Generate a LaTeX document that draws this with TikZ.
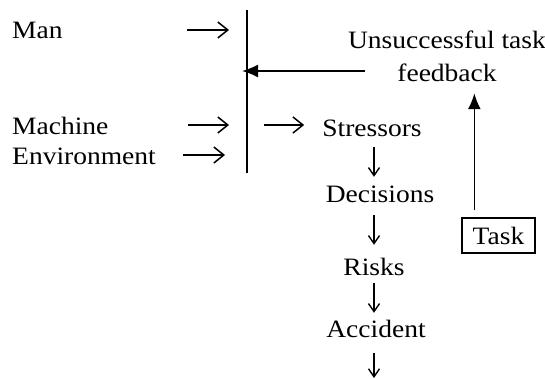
\documentclass[tikz,border=0pt]{standalone}
\usepackage{fontspec}
\setmainfont{Liberation Serif}[FakeStretch=1.1]
\usetikzlibrary{arrows.meta,calc}

\begin{document}
\begin{tikzpicture}[x=1pt, y=-1pt,
	txt/.style={font=\fontsize{25}{29}\selectfont, inner sep=0pt, text height=17pt, text depth=5pt},
	lead/.style={line width=1.5pt, -{Straight Barb[length=10pt,width=16pt,line width=1.5pt]}},
	flow/.style={line width=1.4pt, -{Straight Barb[length=8pt,width=11pt,line width=1.4pt]}},
	back/.style={line width=1.7pt, -{Latex[length=16pt,width=13pt]}}]

\useasboundingbox (0,0) rectangle (545,379);

% Entradas
\node[txt, anchor=base west] (man) at (12,39) {Man};
\node[txt, anchor=base west] (machine) at (12,135) {Machine};
\node[txt, anchor=base west] (env) at (12,165) {Environment};

	\foreach \n/\y/\xa/\xb in {man/30/187/229, machine/125/188/229, env/155/183/225} {
		\coordinate (\n-a) at (\xa,\y);
		\coordinate (\n-b) at (\xb,\y);
		\draw[lead] (\n-a) -- (\n-b);
	}

% Barra
\coordinate (bartop) at (247,10);
\coordinate (barbot) at (247,173);
\coordinate (barmid) at (247,125);
\coordinate (barfb) at (247,71);
\draw[line width=1.7pt] (bartop) -- (barbot);

% Cadena
\node[txt, anchor=base] (stressors) at (372,137) {Stressors};
\node[txt, anchor=base] (decisions) at (380,203) {Decisions};
\node[txt, anchor=base] (risks) at (374,275) {Risks};
\node[txt, anchor=base] (accident) at (376,337) {Accident};
\coordinate (col) at (374,0);
\coordinate (fin) at (374,378);

\draw[lead, shorten <=17pt, shorten >=18pt] (barmid) -- (stressors.west |- barmid);

	\foreach \a/\b/\s/\e in {stressors/decisions/5/9, decisions/risks/7/13, risks/accident/3/7}
		\draw[flow, shorten <=\s pt, shorten >=\e pt] (\a.south -| col) -- (\b.north -| col);
	\draw[flow, shorten <=11pt] (accident.south -| col) -- (fin);

% Retroalimentacion
\node[txt, anchor=base] (unsucc) at (447,49) {Unsuccessful task};
\node[txt, anchor=base] (feedback) at (447,82) {feedback};
\node[txt, draw, line width=1.3pt, minimum width=73pt, minimum height=35pt, text height=, text depth=] (task) at (498.5,235.5) {Task};

\draw[back, shorten <=32pt, shorten >=-5pt] (feedback.west |- barfb) -- (barfb);
\coordinate (taskup) at ($(task.north west)+(13,-7)$);
\draw[back, shorten >=6pt] (taskup) -- (taskup |- feedback.south);

\end{tikzpicture}
\end{document}
